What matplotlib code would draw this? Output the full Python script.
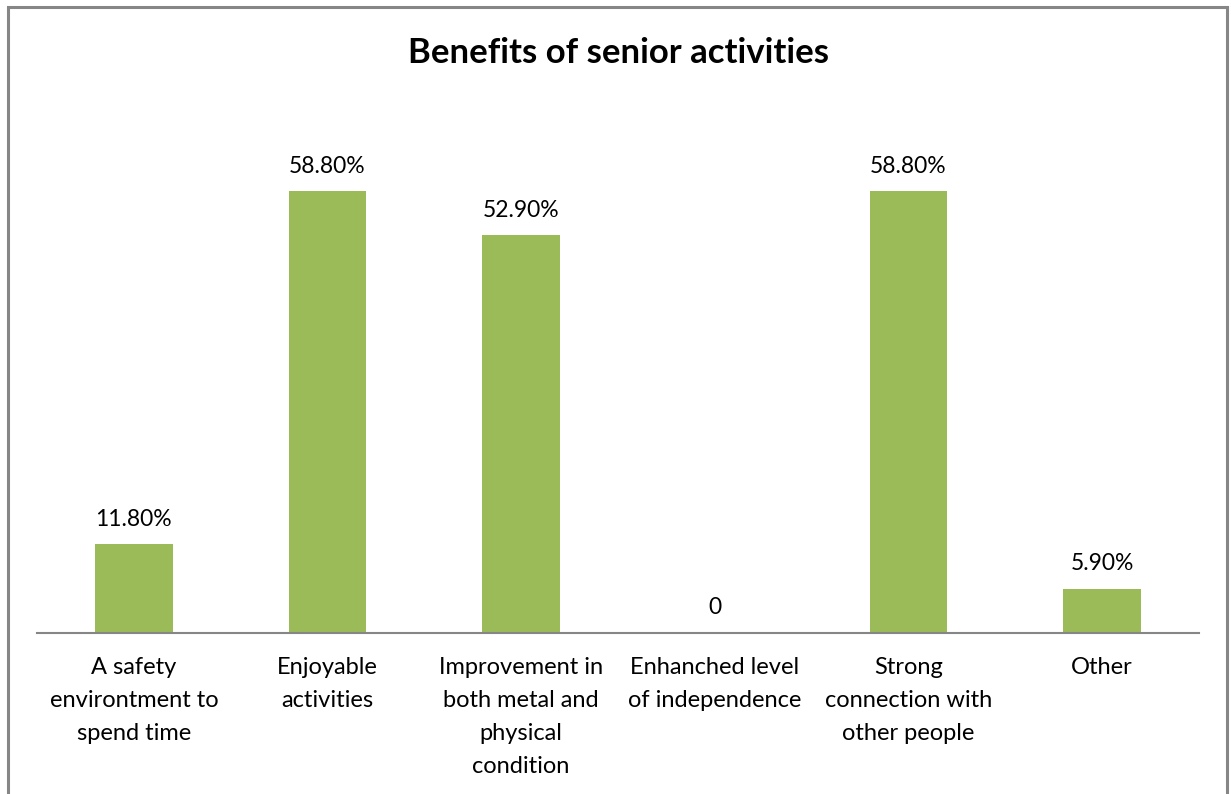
import matplotlib.pyplot as plt
from matplotlib.patches import Rectangle

categories = [
    "A safety\nenvirontment to\nspend time",
    "Enjoyable\nactivities",
    "Improvement in\nboth metal and\nphysical\ncondition",
    "Enhanched level\nof independence",
    "Strong\nconnection with\nother people",
    "Other",
]
values = [11.8, 58.8, 52.9, 0.0, 58.8, 5.9]
value_labels = ["11.80%", "58.80%", "52.90%", "0", "58.80%", "5.90%"]

plt.rcParams['font.family'] = ['Lato', 'DejaVu Sans']

W, H = 1231, 794
fig = plt.figure(figsize=(W / 100, H / 100), dpi=100)
fig.patch.set_facecolor('white')

# outer chart border (bottom runs off the image like the original)
fig.add_artist(Rectangle((8 / W, -0.05), (1227 - 8) / W, (H - 7) / H + 0.05,
                         transform=fig.transFigure, fill=False,
                         edgecolor='#868686', linewidth=2.2))

ax_bottom = (H - 633) / H
ax_top = (H - 107) / H
ax = fig.add_axes([37 / W, ax_bottom, (1199 - 37) / W, ax_top - ax_bottom])

x = range(len(categories))
ax.bar(x, values, width=0.4, color='#9BBB59')
ax.set_xlim(-0.5, len(categories) - 0.5)
ax.set_ylim(0, 70)

for xi, v, lab in zip(x, values, value_labels):
    ax.annotate(lab, (xi, v), xytext=(0, 18), textcoords='offset points',
                ha='center', va='center', fontsize=16.5, color='black')

for s in ['top', 'right', 'left']:
    ax.spines[s].set_visible(False)
ax.spines['bottom'].set_color('#868686')
ax.spines['bottom'].set_linewidth(1.5)
ax.set_yticks([])
ax.set_xticks(list(x))
ax.set_xticklabels(categories, fontsize=17, linespacing=1.71, va='top')
ax.tick_params(axis='x', length=0, pad=17)

fig.text(618 / W, (H - 53) / H, "Benefits of senior activities",
         ha='center', va='center', fontsize=25, fontweight='bold')

fig.savefig('out.png', dpi=100, facecolor='white')
